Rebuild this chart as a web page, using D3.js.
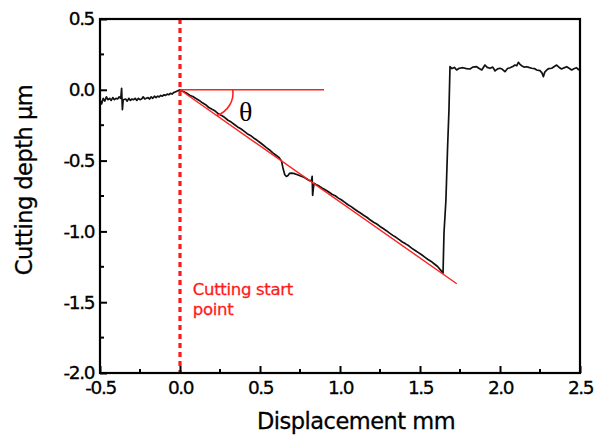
<!DOCTYPE html>
<html><head><meta charset="utf-8">
<script src="https://cdn.jsdelivr.net/npm/d3@7/dist/d3.min.js"></script>
<style>body{margin:0;background:#fff} svg{display:block}</style>
</head><body>
<svg id="c" width="595" height="443"></svg>
<script>
// ---- data ----
const dispX = [
-0.50,-0.49,-0.48,-0.47,-0.46,-0.45,-0.44,-0.43,-0.42,-0.41,-0.40,-0.39,-0.38,-0.37,-0.365,-0.36,-0.355,-0.34,-0.33,-0.32,-0.31,-0.30,-0.29,-0.28,-0.27,-0.26,-0.25,-0.24,-0.23,-0.22,-0.21,-0.20,-0.19,-0.18,-0.17,-0.16,-0.15,-0.14,-0.13,-0.12,-0.11,-0.10,-0.09,-0.08,-0.07,-0.06,-0.05,-0.04,-0.03,-0.02,-0.01,
0.00,0.02,0.04,0.06,0.08,0.10,0.12,0.14,0.16,0.18,0.20,0.22,0.24,0.26,0.28,0.30,0.32,0.34,0.36,0.38,0.40,0.42,0.44,0.46,0.48,0.50,0.52,0.54,0.56,0.58,0.60,0.62,0.635,0.645,0.655,0.665,0.675,0.685,0.695,0.71,0.73,0.75,0.77,0.79,0.81,0.822,0.826,0.829,0.833,0.838,0.85,0.87,0.89,0.91,0.93,0.95,0.97,0.99,1.01,1.03,1.05,1.07,1.09,1.11,1.13,1.15,1.17,1.19,1.21,1.23,1.25,1.27,1.29,1.31,1.33,1.35,1.37,1.39,1.41,1.43,1.45,1.47,1.49,1.51,1.53,1.55,1.57,1.59,1.61,1.63,1.644,
1.650,1.662,1.672,1.681,1.6875,
1.70,1.715,1.729,1.745,1.769,1.79,1.8125,1.83,1.854,1.87,1.886,1.906,1.92,1.9375,1.955,1.969,1.985,2.0,2.015,2.031,2.047,2.0625,2.08,2.094,2.105,2.115,2.125,2.136,2.15,2.167,2.18,2.198,2.215,2.229,2.25,2.262,2.271,2.28,2.292,2.305,2.323,2.34,2.354,2.37,2.385,2.40,2.417,2.432,2.448,2.465,2.479,2.49,2.5
];
const depthY = [
-0.07,-0.10,-0.06,-0.08,-0.05,-0.07,-0.06,-0.075,-0.055,-0.07,-0.06,-0.065,-0.05,-0.06,0.01,-0.14,-0.07,-0.065,-0.08,-0.06,-0.075,-0.065,-0.07,-0.06,-0.075,-0.06,-0.07,-0.065,-0.05,-0.065,-0.06,-0.055,-0.065,-0.05,-0.06,-0.045,-0.055,-0.045,-0.05,-0.04,-0.045,-0.035,-0.04,-0.03,-0.035,-0.025,-0.03,-0.02,-0.015,-0.01,-0.005,
0.000,-0.012,-0.022,-0.038,-0.048,-0.062,-0.075,-0.092,-0.105,-0.125,-0.138,-0.150,-0.170,-0.182,-0.196,-0.215,-0.228,-0.245,-0.262,-0.275,-0.292,-0.310,-0.322,-0.340,-0.355,-0.372,-0.390,-0.408,-0.425,-0.445,-0.462,-0.480,-0.505,-0.560,-0.600,-0.612,-0.605,-0.590,-0.588,-0.590,-0.598,-0.607,-0.615,-0.628,-0.642,-0.640,-0.612,-0.745,-0.700,-0.660,-0.668,-0.680,-0.695,-0.708,-0.722,-0.738,-0.748,-0.765,-0.778,-0.795,-0.812,-0.825,-0.842,-0.858,-0.872,-0.888,-0.902,-0.920,-0.935,-0.948,-0.965,-0.980,-0.995,-1.012,-1.028,-1.042,-1.058,-1.075,-1.088,-1.102,-1.120,-1.135,-1.150,-1.165,-1.182,-1.198,-1.212,-1.230,-1.248,-1.275,-1.294,
-1.010,-0.780,-0.420,-0.143,0.163,
0.150,0.158,0.140,0.152,0.156,0.150,0.147,0.160,0.163,0.150,0.140,0.175,0.158,0.152,0.160,0.133,0.148,0.152,0.145,0.128,0.150,0.156,0.165,0.175,0.170,0.194,0.180,0.170,0.160,0.163,0.158,0.152,0.150,0.140,0.135,0.120,0.093,0.125,0.140,0.150,0.152,0.165,0.175,0.158,0.147,0.155,0.163,0.152,0.140,0.150,0.156,0.142,0.150
];
const xTickValues = [-0.5,0,0.5,1,1.5,2,2.5];
const xTickLabels = ["-0.5","0.0","0.5","1.0","1.5","2.0","2.5"];
const xMinorValues = [-0.25,0.25,0.75,1.25,1.75,2.25];
const yTickValues = [0.5,0,-0.5,-1,-1.5,-2];
const yTickLabels = ["0.5","0.0","-0.5","-1.0","-1.5","-2.0"];
const yMinorValues = [0.25,-0.25,-0.75,-1.25,-1.75];
const startX = 0;
const slopeLineX = [0, 1.73];
const slopeLineY = [0, -1.37];
const horizLineX = [0, 0.9];
const thetaArcX = [0.33, 0.23];   // arc from horizontal line to slope line
const thetaLabelPos = [0.41, -0.22];
const startLabelPos = [0.08, -1.45];
const startLabelLines = ["Cutting start", "point"];
const xTitle = "Displacement mm";
const yTitle = "Cutting depth \u03bcm";

// ---- layout ----
const W = 595, H = 443;
const m = {l:100, r:15, t:19, b:70};
const svg = d3.select("#c");
const x = d3.scaleLinear().domain([-0.5, 2.5]).range([m.l, W - m.r]);
const y = d3.scaleLinear().domain([-2.0, 0.5]).range([H - m.b, m.t]);
const FONT = "'DejaVu Sans', Verdana, sans-serif";

// red dotted start line
svg.append("line")
  .attr("x1", x(startX)).attr("x2", x(startX))
  .attr("y1", y(0.5)).attr("y2", y(-2.0))
  .attr("stroke", "#ff1a1a").attr("stroke-width", 3.2)
  .attr("stroke-dasharray", "5,4");

// data curve
const pts = dispX.map((d, i) => [d, depthY[i]]);
svg.append("path").datum(pts)
  .attr("fill", "none").attr("stroke", "#111").attr("stroke-width", 1.7)
  .attr("stroke-linejoin", "round")
  .attr("d", d3.line().x(d => x(d[0])).y(d => y(d[1])));

// red reference lines
svg.append("line")
  .attr("x1", x(horizLineX[0])).attr("x2", x(horizLineX[1]))
  .attr("y1", y(0)).attr("y2", y(0))
  .attr("stroke", "#ff2020").attr("stroke-width", 1.4);
svg.append("line")
  .attr("x1", x(slopeLineX[0])).attr("x2", x(slopeLineX[1]))
  .attr("y1", y(slopeLineY[0])).attr("y2", y(slopeLineY[1]))
  .attr("stroke", "#ff2020").attr("stroke-width", 1.4);
// theta arc
const slope = slopeLineY[1] / slopeLineX[1];
const a0 = [x(thetaArcX[0]), y(0)];
const a1 = [x(thetaArcX[1]), y(slope * thetaArcX[1])];
svg.append("path")
  .attr("d", `M${a0[0]},${a0[1]} A24,24 0 0 1 ${a1[0]},${a1[1]}`)
  .attr("fill", "none").attr("stroke", "#ff2020").attr("stroke-width", 1.6);
svg.append("text")
  .attr("x", x(thetaLabelPos[0])).attr("y", y(thetaLabelPos[1]))
  .attr("text-anchor", "middle")
  .attr("font-family", "'Liberation Serif', 'DejaVu Serif', serif")
  .attr("font-size", 28).attr("fill", "#000").text("\u03b8");

// start label
const st = svg.append("text")
  .attr("x", x(startLabelPos[0])).attr("y", y(startLabelPos[1]))
  .attr("font-family", FONT).attr("font-size", 16.5).attr("letter-spacing", -0.3)
  .attr("fill", "#ff1a1a").attr("stroke", "#ff1a1a").attr("stroke-width", 0.3);
startLabelLines.forEach((t, i) => st.append("tspan")
  .attr("x", x(startLabelPos[0])).attr("dy", i ? 19.5 : 0).text(t));

// axes
const xAxis = d3.axisBottom(x).tickValues(xTickValues)
  .tickFormat((d, i) => xTickLabels[i]).tickSizeInner(-7).tickSizeOuter(0).tickPadding(8);
const gx = svg.append("g").attr("transform", `translate(0,${y(-2.0)})`).call(xAxis);
const yAxis = d3.axisLeft(y).tickValues(yTickValues)
  .tickFormat((d, i) => yTickLabels[i]).tickSizeInner(-7).tickSizeOuter(0).tickPadding(6);
const gy = svg.append("g").attr("transform", `translate(${x(-0.5)},0)`).call(yAxis);
[gx, gy].forEach(g => {
  g.select(".domain").remove();
  g.selectAll(".tick line").attr("stroke", "#000").attr("stroke-width", 2);
  g.selectAll(".tick text").attr("font-family", FONT).attr("font-size", 18.5)
    .attr("fill", "#000").attr("letter-spacing", -1.4)
    .attr("stroke", "#000").attr("stroke-width", 0.3);
});
// minor ticks
svg.append("g").selectAll("line").data(xMinorValues).join("line")
  .attr("x1", d => x(d)).attr("x2", d => x(d))
  .attr("y1", y(-2.0)).attr("y2", y(-2.0) - 4)
  .attr("stroke", "#000").attr("stroke-width", 2);
svg.append("g").selectAll("line").data(yMinorValues).join("line")
  .attr("x1", x(-0.5)).attr("x2", x(-0.5) + 4)
  .attr("y1", d => y(d)).attr("y2", d => y(d))
  .attr("stroke", "#000").attr("stroke-width", 2);

// frame
svg.append("rect")
  .attr("x", x(-0.5)).attr("y", y(0.5))
  .attr("width", x(2.5) - x(-0.5)).attr("height", y(-2.0) - y(0.5))
  .attr("fill", "none").attr("stroke", "#000").attr("stroke-width", 2.2);

// titles
svg.append("text")
  .attr("x", (x(-0.5) + x(2.5)) / 2 + 16).attr("y", 429)
  .attr("text-anchor", "middle").attr("font-family", FONT).attr("font-size", 22.5)
  .attr("letter-spacing", -0.5).attr("fill", "#000")
  .attr("stroke", "#000").attr("stroke-width", 0.3).text(xTitle);
svg.append("text")
  .attr("transform", `translate(32,${(y(0.5) + y(-2.0)) / 2 - 16}) rotate(-90)`)
  .attr("text-anchor", "middle").attr("font-family", FONT).attr("font-size", 22.5)
  .attr("letter-spacing", -0.5).attr("fill", "#000")
  .attr("stroke", "#000").attr("stroke-width", 0.3).text(yTitle);
</script>
</body></html>
